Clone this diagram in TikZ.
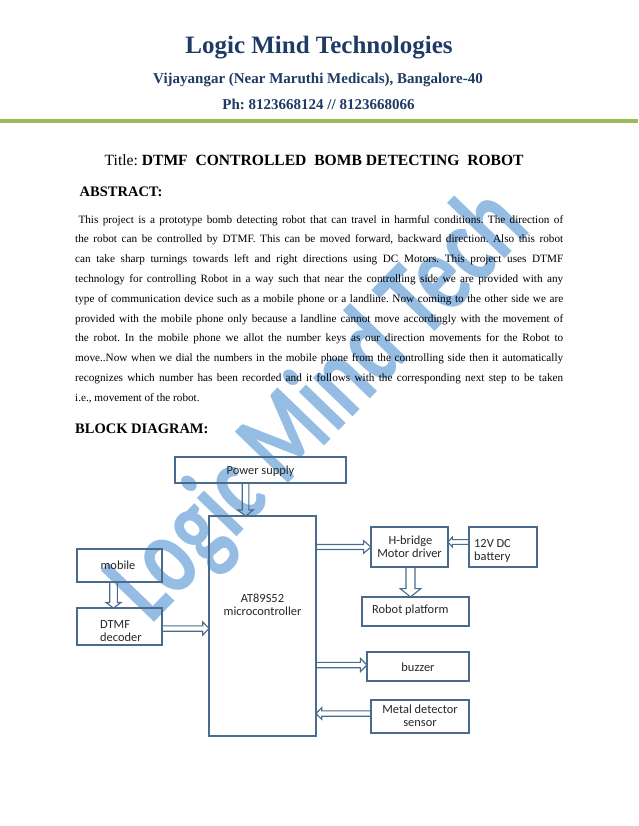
\documentclass[tikz,border=0pt]{standalone}
\usepackage{fontspec}
\setmainfont{Liberation Serif}
\newfontfamily\calib{Carlito}
\usetikzlibrary{calc}
\frenchspacing
\definecolor{hdrblue}{HTML}{1F3A64}
\definecolor{lineblue}{HTML}{4A6A8E}
\definecolor{hdrgreen}{HTML}{9BBB59}
\definecolor{wmblue}{HTML}{95BDE3}
\def\barsw{2.7pt}\def\barhw{6.7pt}\def\barhl{6.3pt}
\tikzset{
  shaftw/.store in=\barsw, headw/.store in=\barhw, headl/.store in=\barhl,
  box/.style={draw=lineblue, line width=1.1pt, inner sep=0pt, outer sep=0pt, rectangle},
  lbl/.style={inner sep=0pt, font=\calib\fontsize{12.4}{13.3}\selectfont, text=black!85, anchor=base},
  lblw/.style={lbl, anchor=base west},
  hdr/.style={inner sep=0pt, anchor=base, text=hdrblue, font=\bfseries},
  barrow/.style={draw=lineblue, line width=1.1pt, line join=miter, to path={
    (\tikztostart) coordinate (bS) (\tikztotarget) coordinate (bT)
    ($(bS)!\barsw!90:(bT)$) -- ($(bT)!\barhl!(bS)!\barsw!90:(bT)$)
    -- ($(bT)!\barhl!(bS)!\barhw!90:(bT)$) -- (bT)
    -- ($(bT)!\barhl!(bS)!\barhw!-90:(bT)$) -- ($(bT)!\barhl!(bS)!\barsw!-90:(bT)$)
    -- ($(bS)!\barsw!-90:(bT)$)}}
}
\begin{document}
\begin{tikzpicture}[x=1pt,y=-1pt]
\fill[white] (0,0) rectangle (638,826);
\useasboundingbox (0,0) rectangle (638,826);

% watermark
\node[anchor=base, rotate=46, inner sep=0pt, text=wmblue] (wm) at (342,428)
  {\scalebox{0.73}[1]{\calib\bfseries\fontsize{114}{114}\selectfont Logic Mind Tech}};

% header
\node[hdr] (h1) at (319,53.3) {\fontsize{25}{30}\selectfont Logic Mind Technologies};
\node[hdr] (h2) at (318,83.3) {\fontsize{15}{18}\selectfont Vijayangar (Near Maruthi Medicals), Bangalore-40};
\node[hdr] (h3) at (318.5,109.3) {\fontsize{15}{18}\selectfont Ph: 8123668124 // 8123668066};
\draw[hdrgreen, line width=4pt] (0,121) -- (638,121);

\node[inner sep=0pt, anchor=base west] (title) at (104.5,166)
  {\fontsize{15.6}{18}\selectfont Title: \textbf{DTMF\ \ CONTROLLED\ \ BOMB DETECTING\ \ ROBOT}};
\node[inner sep=0pt, anchor=base west] (abshead) at (79.5,196.7)
  {\fontsize{14.5}{17}\selectfont\bfseries ABSTRACT:};

\node[inner sep=0pt, anchor=base west] (abstract) at (75,223)
 {\parbox[t]{488pt}{\fontsize{11.2}{19.8}\selectfont
 \hspace*{3.3pt}\makebox[484.7pt][s]{This project is a prototype bomb detecting robot that can travel in harmful conditions. The direction of}\\
 \makebox[488pt][s]{the robot can be controlled by DTMF. This can be moved forward, backward direction. Also this robot}\\
 \makebox[488pt][s]{can take sharp turnings towards left and right directions using DC Motors. This project uses DTMF}\\
 \makebox[488pt][s]{technology for controlling Robot in a way such that near the controlling side we are provided with any}\\
 \makebox[488pt][s]{type of communication device such as a mobile phone or a landline. Now coming to the other side we are}\\
 \makebox[488pt][s]{provided with the mobile phone only because a landline cannot move accordingly with the movement of}\\
 \makebox[488pt][s]{the robot. In the mobile phone we allot the number keys as our direction movements for the Robot to}\\
 \makebox[488pt][s]{move..Now when we dial the numbers in the mobile phone from the controlling side then it automatically}\\
 \makebox[488pt][s]{recognizes which number has been recorded and it follows with the corresponding next step to be taken}\\
 i.e., movement of the robot.}};

\node[inner sep=0pt, anchor=base west] (bdhead) at (75,433.3)
  {\fontsize{14.5}{17}\selectfont\bfseries BLOCK DIAGRAM:};

% boxes
\node[box, minimum width=171, minimum height=26] (power)   at (260.5,470) {};
\node[box, minimum width=107, minimum height=220] (mcu)    at (262.5,626) {};
\node[box, minimum width=85,  minimum height=33] (mobile)  at (119.5,565.5) {};
\node[box, minimum width=85,  minimum height=37] (dtmf)    at (119.5,626.5) {};
\node[box, minimum width=77,  minimum height=40] (hbridge) at (409.5,547) {};
\node[box, minimum width=68,  minimum height=40] (battery) at (503,547) {};
\node[box, minimum width=107, minimum height=29] (robot)   at (415.5,611.5) {};
\node[box, minimum width=102, minimum height=29] (buzzer)  at (418,666.5) {};
\node[box, minimum width=98,  minimum height=33] (metal)   at (420,716.5) {};

% labels
\node[lbl]  (tpower) at (260.5,474) {Power supply};
\node[lbl]  (tmcu1)  at (262.5,602.7) {AT89S52};
\node[lbl]  (tmcu2)  at (262.5,615.7) {microcontroller};
\node[lbl]  (tmob)   at (118,569.3) {mobile};
\node[lblw] (tdt1)   at (100,628.3) {DTMF};
\node[lblw] (tdt2)   at (100,641) {decoder};
\node[lbl]  (thb1)   at (410.5,544) {H-bridge};
\node[lbl]  (thb2)   at (409.5,557.3) {Motor driver};
\node[lblw] (tbat1)  at (474,547.7) {12V DC};
\node[lblw] (tbat2)  at (474,560.5) {battery};
\node[lblw] (trob)   at (372,613.7) {Robot platform};
\node[lbl]  (tbuz)   at (418,671.7) {buzzer};
\node[lbl]  (tmet1)  at (420,713.3) {Metal detector};
\node[lbl]  (tmet2)  at (420,726.7) {sensor};

% block arrows
\draw[barrow, shaftw=3.3pt, headw=7.8pt, headl=6pt]
  ($(power.south)+(-15pt,0)$) to ($(power.south |- mcu.north)+(-15pt,0)$);
\draw[barrow, shaftw=3.8pt, headw=7.5pt, headl=5.5pt]
  ($(mobile.south)+(-6pt,0)$) to ($(dtmf.north)+(-6pt,0)$);
\draw[barrow, shaftw=2.7pt, headw=6.7pt, headl=6.3pt]
  ($(dtmf.east)+(0,-2pt)$) to ($(mcu.west |- dtmf.east)+(0,-2pt)$);
\draw[barrow, shaftw=2.5pt, headw=6.3pt, headl=7.4pt]
  (mcu.east |- hbridge.west) to (hbridge.west);
\draw[barrow, shaftw=2.4pt, headw=5pt, headl=4.4pt]
  ($(battery.west)+(0,5pt)$) to ($(hbridge.east)+(0,5pt)$);
\draw[barrow, shaftw=4.5pt, headw=10.3pt, headl=8.4pt]
  ($(hbridge.south)+(1pt,0)$) to ($(hbridge.south |- robot.north)+(1pt,0)$);
\draw[barrow, shaftw=2.7pt, headw=6.7pt, headl=6.7pt]
  ($(mcu.east |- buzzer.west)+(0,1.5pt)$) to ($(buzzer.west)+(0,1.5pt)$);
\draw[barrow, shaftw=2.7pt, headw=5.8pt, headl=5.7pt]
  ($(metal.west)+(0,3pt)$) to ($(mcu.east |- metal.west)+(0,3pt)$);
\end{tikzpicture}
\end{document}
